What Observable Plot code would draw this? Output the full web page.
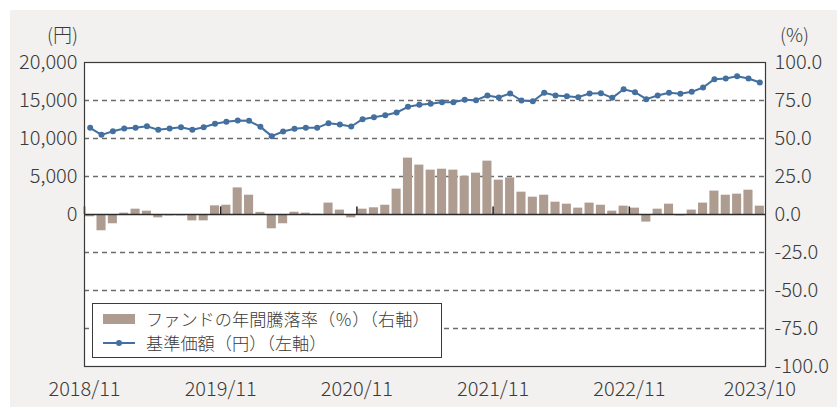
<!DOCTYPE html>
<html>
<head>
<meta charset="utf-8">
<script src="https://cdn.jsdelivr.net/npm/d3@7"></script>
<script src="https://cdn.jsdelivr.net/npm/@observablehq/plot@0.6"></script>
<style>
  html, body { margin: 0; padding: 0; background: #ffffff; }
  #wrap { position: relative; width: 837px; height: 410px; overflow: hidden; font-family: "Noto Sans CJK JP", "Noto Sans", sans-serif; }
  #bg { position: absolute; left: 10px; top: 10px; width: 827px; height: 397px; background: #f2f1ef; }
  #chart { position: absolute; left: 0; top: 0; }
  #chart text { font-weight: 300; }
  #legend { position: absolute; left: 92px; top: 303px; width: 350px; height: 55px; box-sizing: border-box;
            border: 1px solid #3a3a3a; background: #ffffff; color: #3a3a3a; font-size: 17.2px; font-weight: 300; }
  .row { position: absolute; left: 0; height: 24px; line-height: 24px; white-space: nowrap; }
  .row .txt { position: absolute; left: 53px; }
  .sw-bar { position: absolute; left: 10px; top: 7px; width: 32px; height: 10px; background: #ae9c90; }
  .sw-line { position: absolute; left: 10px; top: 11px; width: 32px; height: 2px; background: #43709f; }
  .sw-dot { position: absolute; left: 23px; top: 9px; width: 6px; height: 6px; border-radius: 3px; background: #43709f; }
</style>
</head>
<body>
<div id="wrap">
  <div id="bg"></div>
  <div id="chart"></div>
  <div id="legend">
    <div class="row" style="top:3px"><span class="sw-bar"></span><span class="txt">ファンドの年間騰落率（％）（右軸）</span></div>
    <div class="row" style="top:27px"><span class="sw-line"></span><span class="sw-dot"></span><span class="txt">基準価額（円）（左軸）</span></div>
  </div>
</div>
<script>
// Month categories 2018/11 .. 2023/10
const months = d3.utcMonth.range(new Date(Date.UTC(2018, 10, 1)), new Date(Date.UTC(2023, 10, 1))).map(d3.utcFormat("%Y/%m"));

// 基準価額 (円)
const nav = [
  11400, 10480, 10960, 11320, 11400, 11620, 11140, 11320, 11490, 11140, 11490, 11930,
  12190, 12370, 12320, 11530, 10310, 10920, 11270, 11400, 11400, 12020, 11840, 11580,
  12540, 12810, 13070, 13420, 14170, 14430, 14560, 14780, 14780, 15090, 15040, 15660,
  15400, 15920, 15000, 14910, 16010, 15660, 15570, 15440, 15920, 15965, 15350, 16490,
  16100, 15180, 15660, 16010, 15880, 16140, 16710, 17810, 17900, 18200, 17900, 17370
];

// ファンドの年間騰落率 (%)
const ret = [
  -1.5, -10.7, -6.1, 0.9, 3.5, 2.2, -2.2, -0.9, -0.9, -4.2, -4.2, 5.7,
  6.1, 17.5, 12.7, 1.4, -9.4, -6.1, 1.5, 0.9, 0.2, 7.5, 2.9, -2.2,
  3.5, 4.4, 6.1, 16.7, 37.1, 32.5, 29.2, 29.8, 29.2, 25.2, 27.2, 35.1,
  22.6, 24.1, 14.7, 11.4, 12.7, 8.1, 6.8, 4.2, 7.5, 6.1, 2.2, 5.5,
  4.2, -5.0, 3.5, 6.8, -0.9, 2.9, 7.5, 15.4, 12.7, 13.4, 16.0, 5.5
];

const leftTicks = [0, 5000, 10000, 15000, 20000];
const rightTicks = [-100, -75, -50, -25, 0, 25, 50, 75, 100];
const xLabels = ["2018/11", "2019/11", "2020/11", "2021/11", "2022/11"];
const xLastLabel = ["2023/10"];
const yearStarts = ["2018/11", "2019/11", "2020/11", "2021/11", "2022/11"];

const data = months.map((m, i) => ({month: m, nav: nav[i], ret: ret[i]}));
const yenToPct = (v) => v / 200; // 20,000円 ↔ 100%

const W = 837, H = 410, mL = 84, mR = 72, mT = 62, mB = 44;
const step = (W - mL - mR) / months.length;

const chart = Plot.plot({
  width: W, height: H,
  marginLeft: mL, marginRight: mR, marginTop: mT, marginBottom: mB,
  x: {type: "band", domain: months, paddingInner: 0.2, paddingOuter: 0.1, round: false, axis: null},
  y: {domain: [-100, 100], axis: null},
  style: {background: "transparent", fontFamily: "'Noto Sans CJK JP', 'Noto Sans', sans-serif", fontSize: "20px", color: "#3a3a3a", overflow: "visible"},
  marks: [
    Plot.frame({fill: "white"}),
    Plot.ruleY([75, 50, 25, -25, -50, -75], {stroke: "#6b6b6b", strokeWidth: 1.3, strokeDasharray: "5,4"}),
    Plot.barY(data, {x: "month", y: "ret", fill: "#ae9c90"}),
    Plot.ruleY([0], {stroke: "#2b2b2b", strokeWidth: 1.5}),
    Plot.ruleX(yearStarts, {x: d => d, y1: 0, y2: 5, dx: -step / 2, stroke: "#222", strokeWidth: 1.5}),
    Plot.line(data, {x: "month", y: d => yenToPct(d.nav), stroke: "#43709f", strokeWidth: 2}),
    Plot.dot(data, {x: "month", y: d => yenToPct(d.nav), r: 3, fill: "#43709f"}),
    Plot.frame({stroke: "#3a3a3a", strokeWidth: 1.2}),
    Plot.axisY(leftTicks.map(yenToPct), {anchor: "left", tickFormat: d => d3.format(",")(d * 200), tickSize: 0, tickPadding: 7, label: null}),
    Plot.axisY(rightTicks, {anchor: "right", tickFormat: d => d.toFixed(1), tickSize: 0, tickPadding: 9, label: null}),
    Plot.axisX(xLabels, {anchor: "bottom", tickSize: 0, tickPadding: 15, dx: -step / 2, label: null}),
    Plot.axisX(xLastLabel, {anchor: "bottom", tickSize: 0, tickPadding: 15, label: null}),
    Plot.text(["(円)"], {frameAnchor: "top-left", lineAnchor: "middle", text: d => d, dx: -22, dy: -27, textAnchor: "middle", fontSize: 19}),
    Plot.text(["(%)"], {frameAnchor: "top-right", lineAnchor: "middle", text: d => d, dx: 29, dy: -27, textAnchor: "middle", fontSize: 19})
  ]
});
document.getElementById("chart").appendChild(chart);
</script>
</body>
</html>
